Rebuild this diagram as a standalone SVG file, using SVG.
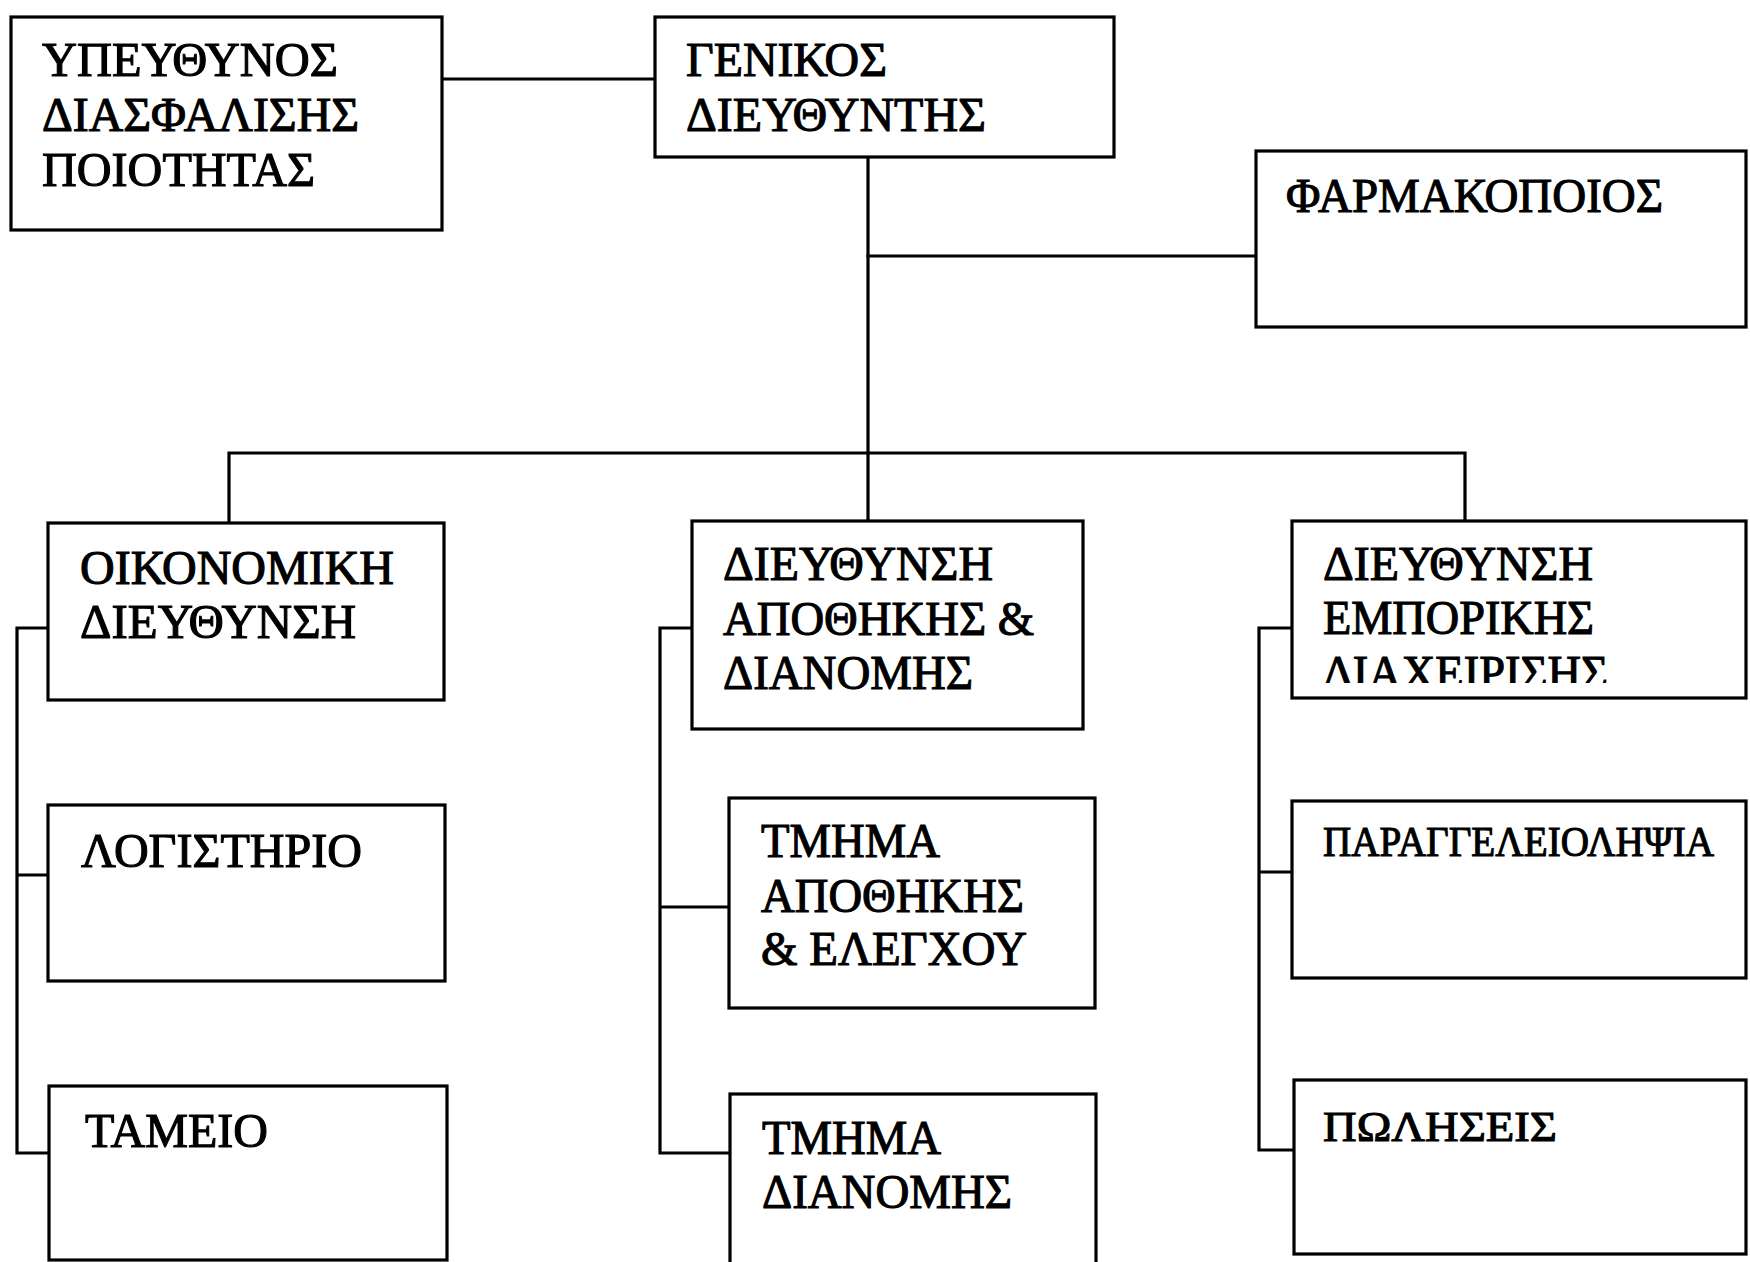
<svg xmlns="http://www.w3.org/2000/svg" width="1750" height="1262" viewBox="0 0 1750 1262">
<style>
.box{fill:#fff;stroke:#000;stroke-width:3.2}
.c{fill:none;stroke:#000;stroke-width:3.2;stroke-linecap:square}
text{font-family:"Liberation Serif","Times New Roman",serif;font-size:48px;fill:#000;stroke:#000;stroke-width:1.1}
.s{font-size:42px}
</style>
<defs>
<clipPath id="clipEmp"><rect x="1290" y="630" width="460" height="53"/></clipPath>
</defs>
<rect width="1750" height="1262" fill="#fff"/>
<g id="connectors">
<path class="c" d="M442 79H655"/>
<path class="c" d="M868 157V521"/>
<path class="c" d="M868 256H1256"/>
<path class="c" d="M229 523V453H1465V521"/>
<path class="c" d="M48 628H17V1153H48M17 875H48"/>
<path class="c" d="M692 628H660V1153H730M660 907H729"/>
<path class="c" d="M1292 628H1259V1150H1294M1259 872H1292"/>
</g>
<g id="quality">
<rect class="box" x="11" y="17" width="431" height="213"/>
<text x="42" y="76" textLength="296" lengthAdjust="spacingAndGlyphs">ΥΠΕΥΘΥΝΟΣ</text>
<text x="42" y="131" textLength="317" lengthAdjust="spacingAndGlyphs">ΔΙΑΣΦΑΛΙΣΗΣ</text>
<text x="42" y="186" textLength="273" lengthAdjust="spacingAndGlyphs">ΠΟΙΟΤΗΤΑΣ</text>
</g>
<g id="general">
<rect class="box" x="655" y="17" width="459" height="140"/>
<text x="686" y="76" textLength="201" lengthAdjust="spacingAndGlyphs">ΓΕΝΙΚΟΣ</text>
<text x="686" y="131" textLength="300" lengthAdjust="spacingAndGlyphs">ΔΙΕΥΘΥΝΤΗΣ</text>
</g>
<g id="pharmacist">
<rect class="box" x="1256" y="151" width="490" height="176"/>
<text x="1286" y="212" textLength="377" lengthAdjust="spacingAndGlyphs">ΦΑΡΜΑΚΟΠΟΙΟΣ</text>
</g>
<g id="finance">
<rect class="box" x="48" y="523" width="396" height="177"/>
<text x="80" y="584" textLength="314" lengthAdjust="spacingAndGlyphs">ΟΙΚΟΝΟΜΙΚΗ</text>
<text x="80" y="638" textLength="276" lengthAdjust="spacingAndGlyphs">ΔΙΕΥΘΥΝΣΗ</text>
</g>
<g id="warehouse">
<rect class="box" x="692" y="521" width="391" height="208"/>
<text x="723" y="580" textLength="270" lengthAdjust="spacingAndGlyphs">ΔΙΕΥΘΥΝΣΗ</text>
<text x="723" y="635" textLength="311" lengthAdjust="spacingAndGlyphs">ΑΠΟΘΗΚΗΣ &amp;</text>
<text x="723" y="689" textLength="250" lengthAdjust="spacingAndGlyphs">ΔΙΑΝΟΜΗΣ</text>
</g>
<g id="commercial">
<rect class="box" x="1292" y="521" width="454" height="177"/>
<text x="1323" y="580" textLength="270" lengthAdjust="spacingAndGlyphs">ΔΙΕΥΘΥΝΣΗ</text>
<text x="1323" y="634" textLength="271" lengthAdjust="spacingAndGlyphs">ΕΜΠΟΡΙΚΗΣ</text>
<text x="1323" y="689" textLength="285" lengthAdjust="spacingAndGlyphs" clip-path="url(#clipEmp)">ΔΙΑΧΕΙΡΙΣΗΣ</text>
</g>
<g id="accounting">
<rect class="box" x="48" y="805" width="397" height="176"/>
<text x="81" y="867" textLength="281" lengthAdjust="spacingAndGlyphs">ΛΟΓΙΣΤΗΡΙΟ</text>
</g>
<g id="cashier">
<rect class="box" x="49" y="1086" width="398" height="174"/>
<text x="85" y="1147" textLength="183" lengthAdjust="spacingAndGlyphs">ΤΑΜΕΙΟ</text>
</g>
<g id="storage">
<rect class="box" x="729" y="798" width="366" height="210"/>
<text x="761" y="857" textLength="179" lengthAdjust="spacingAndGlyphs">ΤΜΗΜΑ</text>
<text x="761" y="912" textLength="263" lengthAdjust="spacingAndGlyphs">ΑΠΟΘΗΚΗΣ</text>
<text x="761" y="965" textLength="266" lengthAdjust="spacingAndGlyphs">&amp; ΕΛΕΓΧΟΥ</text>
</g>
<g id="distribution">
<rect class="box" x="730" y="1094" width="366" height="190"/>
<text x="762" y="1154" textLength="179" lengthAdjust="spacingAndGlyphs">ΤΜΗΜΑ</text>
<text x="762" y="1208" textLength="250" lengthAdjust="spacingAndGlyphs">ΔΙΑΝΟΜΗΣ</text>
</g>
<g id="orders">
<rect class="box" x="1292" y="801" width="454" height="177"/>
<text class="s" x="1323" y="856" textLength="391" lengthAdjust="spacingAndGlyphs">ΠΑΡΑΓΓΕΛΕΙΟΛΗΨΙΑ</text>
</g>
<g id="sales">
<rect class="box" x="1294" y="1080" width="452" height="174"/>
<text class="s" x="1323" y="1141" textLength="234" lengthAdjust="spacingAndGlyphs">ΠΩΛΗΣΕΙΣ</text>
</g>
</svg>
